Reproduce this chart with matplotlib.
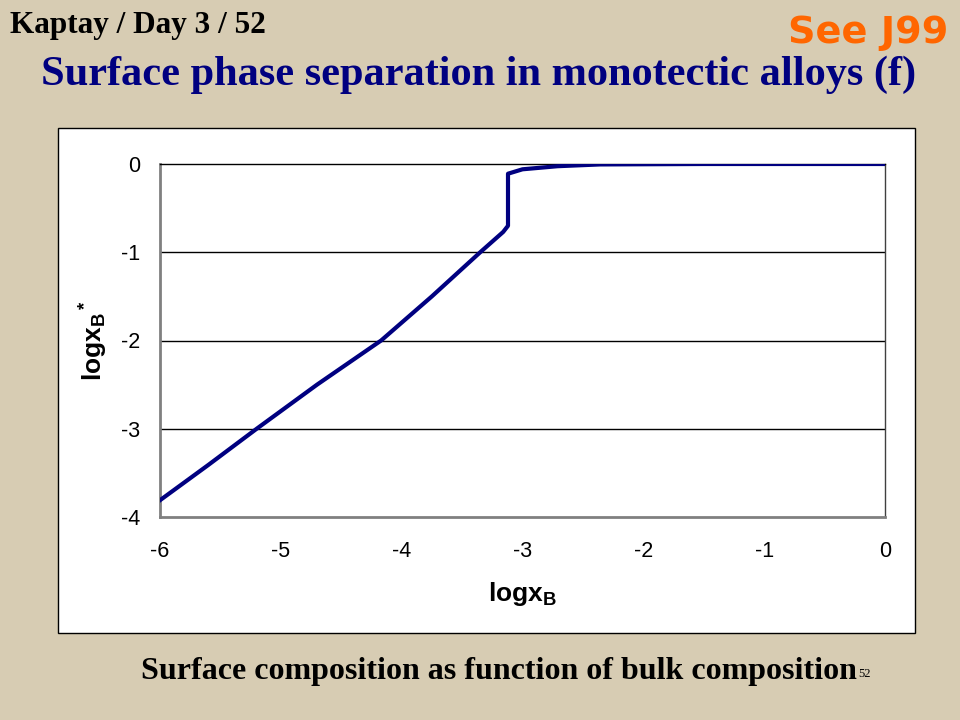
import matplotlib
matplotlib.use("Agg")
import matplotlib.pyplot as plt
from matplotlib.patches import Rectangle

# Data
log_xb = [-6.0, -5.6, -5.2, -4.7, -4.17, -3.75, -3.35, -3.16, -3.12, -3.12, -3.0, -2.71, -2.36, -1.5, 0.0]
log_xb_surf = [-3.81, -3.41, -3.0, -2.5, -2.0, -1.5, -1.0, -0.77, -0.70, -0.11, -0.06, -0.025, -0.005, 0.0, 0.0]

x_ticks = [-6, -5, -4, -3, -2, -1, 0]
y_ticks = [-4, -3, -2, -1, 0]

plt.rcParams['mathtext.fontset'] = 'custom'
plt.rcParams['mathtext.rm'] = 'Liberation Sans'
plt.rcParams['mathtext.bf'] = 'Liberation Sans:bold'
plt.rcParams['mathtext.it'] = 'Liberation Sans:italic'

fig = plt.figure(figsize=(9.6, 7.2), dpi=100)
fig.patch.set_facecolor('#D7CCB3')

# chart frame (white box)
frame = Rectangle((58/960, 1-633/720), 857/960, 505/720, transform=fig.transFigure,
                  facecolor='white', edgecolor='black', linewidth=1.0, zorder=-10)
fig.patches.append(frame)

ax = fig.add_axes([160/960, 1-517/720, 725/960, 353/720])
ax.set_zorder(5)
ax.set_facecolor('white')
ax.plot(log_xb, log_xb_surf, color='#000080', linewidth=3.0, solid_joinstyle='round', zorder=3)

ax.set_xlim(-6, 0)
ax.set_ylim(-4, 0)
ax.set_xticks(x_ticks)
ax.set_yticks(y_ticks)
ax.set_xticklabels([str(t) for t in x_ticks])
ax.set_yticklabels([str(t) for t in y_ticks])
for lbl in ax.get_xticklabels() + ax.get_yticklabels():
    lbl.set_fontfamily('Liberation Sans')
    lbl.set_fontsize(15.5)
ax.tick_params(axis='both', length=0, pad=14)
ax.tick_params(axis='x', pad=17)
for yv in [-1, -2, -3]:
    ax.axhline(yv, color='black', linewidth=1.0, zorder=1)

ax.spines['left'].set_color('#808080')
ax.spines['left'].set_linewidth(2.0)
ax.spines['bottom'].set_color('#808080')
ax.spines['bottom'].set_linewidth(2.0)
ax.spines['top'].set_color('black')
ax.spines['top'].set_linewidth(1.0)
ax.spines['right'].set_color('#404040')
ax.spines['right'].set_linewidth(1.0)

ax.set_xlabel(r'$\mathbf{logx_B}$', fontsize=19, labelpad=13)
ax.set_ylabel(r'$\mathbf{logx_B{}^*}$', fontsize=19, labelpad=8)

# slide texts
fig.text(10/960, 1-25/720, 'Kaptay / Day 3 / 52', family='Liberation Serif', weight='bold',
         fontsize=22.5, color='black', ha='left', va='center')
fig.text(948/960, 1-33/720, 'See J99', family='DejaVu Sans', weight='bold',
         fontsize=27.5, color='#FF6600', ha='right', va='center')
fig.text(479/960, 1-75/720, 'Surface phase separation in monotectic alloys (f)',
         family='Liberation Serif', weight='bold', fontsize=30.5, color='#000080',
         ha='center', va='center')
fig.text(499/960, 1-672/720, 'Surface composition as function of bulk composition',
         family='Liberation Serif', weight='bold', fontsize=23, color='black',
         ha='center', va='center')
fig.text(858/960, 1-674/720, '52', family='Liberation Serif', fontsize=9,
         color='black', ha='left', va='center')

fig.savefig('out.png', dpi=100, facecolor=fig.get_facecolor())
